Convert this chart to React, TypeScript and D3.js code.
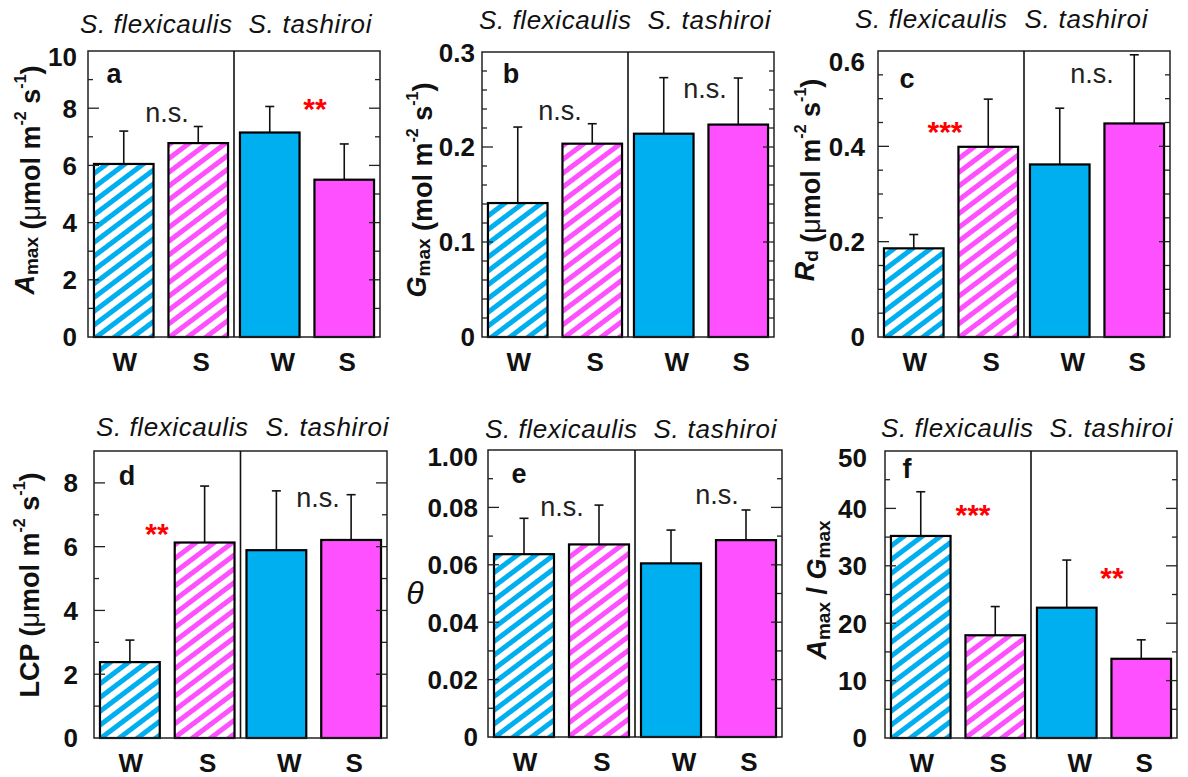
import React from "react";
import * as d3 from "d3";

// ---------- data ----------
const species = ["S. flexicaulis", "S. tashiroi"];
const treatments = ["W", "S"];

const amaxMean = [6.05, 6.78, 7.15, 5.5];
const amaxSE = [1.15, 0.58, 0.91, 1.25];
const amaxTicks = [0, 2, 4, 6, 8, 10];
const amaxTickLabels = ["0", "2", "4", "6", "8", "10"];

const gmaxMean = [0.141, 0.2035, 0.214, 0.2236];
const gmaxSE = [0.08, 0.021, 0.059, 0.049];
const gmaxTicks = [0, 0.1, 0.2, 0.3];
const gmaxTickLabels = ["0", "0.1", "0.2", "0.3"];

const rdMean = [0.186, 0.399, 0.362, 0.448];
const rdSE = [0.029, 0.1, 0.118, 0.144];
const rdTicks = [0, 0.2, 0.4, 0.6];
const rdTickLabels = ["0", "0.2", "0.4", "0.6"];

const lcpMean = [2.38, 6.13, 5.89, 6.21];
const lcpSE = [0.69, 1.77, 1.86, 1.42];
const lcpTicks = [0, 2, 4, 6, 8];
const lcpTickLabels = ["0", "2", "4", "6", "8"];

const thetaMean = [0.0637, 0.0671, 0.0605, 0.0686];
const thetaSE = [0.0125, 0.0137, 0.0116, 0.0105];
const thetaTicks = [0, 0.02, 0.04, 0.06, 0.08, 0.1];
const thetaTickLabels = ["0", "0.02", "0.04", "0.06", "0.08", "1.00"];

const ratioMean = [35.2, 17.9, 22.7, 13.8];
const ratioSE = [7.7, 5.0, 8.3, 3.3];
const ratioTicks = [0, 10, 20, 30, 40, 50];
const ratioTickLabels = ["0", "10", "20", "30", "40", "50"];

// ---------- styling / layout ----------
const FONT = "'Liberation Sans', Arial, Helvetica, sans-serif";
const BLUE = "#00AFEF";
const MAGENTA = "#FF50FF";
const fills = ["url(#hatchBlue)", "url(#hatchMag)", BLUE, MAGENTA];
const labelDx = [1, 3, 13, 3];
const TICK_FS = 26;
const TITLE_FS = 27;
const SUB_FS = 19;
const SUP_FS = 16;

type Ann = { text: string; x: number; y: number; star?: boolean };
type Panel = {
  letter: string;
  mean: number[];
  se: number[];
  domain: [number, number];
  ticks: number[];
  tickLabels: string[];
  minor: number;
  frame: { x: number; y: number; w: number; h: number };
  gap: number;
  topDy: number;
  titleBase: number;
  spCx: [number, number];
  letterPos: [number, number];
  anns: Ann[];
  yTitle: { x: number; y: number; kind: string };
};

const panels: Panel[] = [
  {
    letter: "a", mean: amaxMean, se: amaxSE, domain: [0, 10], ticks: amaxTicks, tickLabels: amaxTickLabels, minor: 1,
    frame: { x: 88, y: 51, w: 292, h: 286 }, gap: 11, topDy: 6, titleBase: -18, spCx: [68, 222], letterPos: [26, 32],
    anns: [{ text: "n.s.", x: 79, y: 71 }, { text: "**", x: 227, y: 68, star: true }],
    yTitle: { x: 25, y: 180, kind: "amax" },
  },
  {
    letter: "b", mean: gmaxMean, se: gmaxSE, domain: [0, 0.3], ticks: gmaxTicks, tickLabels: gmaxTickLabels, minor: 0.02,
    frame: { x: 482, y: 52, w: 292, h: 285 }, gap: 7, topDy: 1, titleBase: -23, spCx: [73, 227], letterPos: [29, 31],
    anns: [{ text: "n.s.", x: 78, y: 68 }, { text: "n.s.", x: 223, y: 46 }],
    yTitle: { x: 417, y: 190, kind: "gmax" },
  },
  {
    letter: "c", mean: rdMean, se: rdSE, domain: [0, 0.6], ticks: rdTicks, tickLabels: rdTickLabels, minor: 0.05,
    frame: { x: 878, y: 51, w: 292, h: 286 }, gap: 13, topDy: 11, titleBase: -23, spCx: [53, 208], letterPos: [29, 37],
    anns: [{ text: "***", x: 67, y: 91, star: true }, { text: "n.s.", x: 214, y: 32 }],
    yTitle: { x: 805, y: 180, kind: "rd" },
  },
  {
    letter: "d", mean: lcpMean, se: lcpSE, domain: [0, 9], ticks: lcpTicks, tickLabels: lcpTickLabels, minor: 1,
    frame: { x: 94, y: 451, w: 293, h: 287 }, gap: 16, topDy: 0, titleBase: -15, spCx: [78, 233], letterPos: [33, 34],
    anns: [{ text: "**", x: 63, y: 93, star: true }, { text: "n.s.", x: 224, y: 56 }],
    yTitle: { x: 30, y: 585, kind: "lcp" },
  },
  {
    letter: "e", mean: thetaMean, se: thetaSE, domain: [0, 0.1], ticks: thetaTicks, tickLabels: thetaTickLabels, minor: 0.01,
    frame: { x: 488, y: 450, w: 294, h: 287 }, gap: 10, topDy: 7, titleBase: -12, spCx: [73, 227], letterPos: [31, 33],
    anns: [{ text: "n.s.", x: 74, y: 66 }, { text: "n.s.", x: 229, y: 54 }],
    yTitle: { x: 415, y: 593, kind: "theta" },
  },
  {
    letter: "f", mean: ratioMean, se: ratioSE, domain: [0, 50], ticks: ratioTicks, tickLabels: ratioTickLabels, minor: 5,
    frame: { x: 885, y: 451, w: 292, h: 287 }, gap: 18, topDy: 7, titleBase: -14, spCx: [72, 226], letterPos: [22, 27],
    anns: [{ text: "***", x: 88, y: 74, star: true }, { text: "**", x: 227, y: 137, star: true }],
    yTitle: { x: 817, y: 590, kind: "ratio" },
  },
];

function YTitle({ x, y, kind }: { x: number; y: number; kind: string }) {
  const base = { fontFamily: FONT, fontWeight: 700, fontSize: TITLE_FS, fill: "#111" } as any;
  const tf = `translate(${x},${y}) rotate(-90)`;
  if (kind === "theta") {
    return (
      <text transform={`translate(${x},${y})`} textAnchor="middle" dominantBaseline="central" style={{ fontFamily: FONT, fontSize: 32, fontStyle: "italic", fill: "#111" }}>
        θ
      </text>
    );
  }
  const unit = (mu: boolean) => (
    <>
      <tspan> (</tspan>
      {mu ? <tspan fontWeight={400}>μ</tspan> : null}
      <tspan>mol m</tspan>
      <tspan fontSize={SUP_FS} dy={-11}>-2</tspan>
      <tspan dy={11}> s</tspan>
      <tspan fontSize={SUP_FS} dy={-11}>-1</tspan>
      <tspan dy={11}>)</tspan>
    </>
  );
  const sub = (main: string, s: string) => (
    <>
      <tspan fontStyle="italic">{main}</tspan>
      <tspan fontSize={SUB_FS} dy={6}>{s}</tspan>
    </>
  );
  let content: any = null;
  if (kind === "amax") {
    content = (<>{sub("A", "max")}<tspan dy={-6}></tspan>{unit(true)}</>);
  } else if (kind === "gmax") {
    content = (<>{sub("G", "max")}<tspan dy={-6}></tspan>{unit(false)}</>);
  } else if (kind === "rd") {
    content = (<>{sub("R", "d")}<tspan dy={-6}></tspan>{unit(true)}</>);
  } else if (kind === "lcp") {
    content = (<><tspan>LCP</tspan>{unit(true)}</>);
  } else if (kind === "ratio") {
    content = (
      <>
        {sub("A", "max")}
        <tspan dy={-6}> / </tspan>
        {sub("G", "max")}
      </>
    );
  }
  return (
    <text transform={tf} textAnchor="middle" dominantBaseline="central" style={base}>
      {content}
    </text>
  );
}

function PanelView({ p }: { p: Panel }) {
  const { x, y, w, h } = p.frame;
  const yScale = d3.scaleLinear().domain(p.domain).range([h, 0]);
  const spScale = d3.scaleBand<string>().domain(species).range([0, w]);
  const trScale = d3.scaleBand<string>().domain(treatments).range([0, spScale.bandwidth()]).paddingInner(0.2).paddingOuter(0.08);
  const cats = species.flatMap((s) => treatments.map((t) => ({ s, t })));
  const nMinor = Math.round((p.domain[1] - p.domain[0]) / p.minor);
  const minorTicks = d3.range(0, nMinor + 1).map((i) => p.domain[0] + i * p.minor);
  const majorSet = new Set(p.ticks.map((t) => t.toFixed(6)));
  const divX = spScale(species[1])!;
  return (
    <g transform={`translate(${x},${y})`}>
      {cats.map((c, i) => {
        const bx = spScale(c.s)! + trScale(c.t)!;
        const bw = trScale.bandwidth();
        const top = yScale(p.mean[i]);
        const errTop = yScale(p.mean[i] + p.se[i]);
        const cx = bx + bw / 2;
        return (
          <g key={i}>
            <line x1={cx} x2={cx} y1={top} y2={errTop} stroke="#111" strokeWidth={1.6} />
            <line x1={cx - 4.5} x2={cx + 4.5} y1={errTop} y2={errTop} stroke="#111" strokeWidth={1.6} />
            <rect x={bx} y={top} width={bw} height={h - top} fill={fills[i]} stroke="#000" strokeWidth={2.2} />
          </g>
        );
      })}
      {minorTicks.map((t, i) => {
        const isMajor = majorSet.has(t.toFixed(6));
        const len = isMajor ? 11 : 5;
        const ty = yScale(t);
        if (i === 0 || i === nMinor) return null;
        return (
          <g key={i}>
            <line x1={0} x2={len} y1={ty} y2={ty} stroke="#222" strokeWidth={1.3} />
            <line x1={w - len} x2={w} y1={ty} y2={ty} stroke="#222" strokeWidth={1.3} />
          </g>
        );
      })}
      <rect x={0} y={0} width={w} height={h} fill="none" stroke="#222" strokeWidth={1.5} />
      <line x1={divX} x2={divX} y1={0} y2={h} stroke="#111" strokeWidth={1.6} />
      {p.ticks.map((t, i) => (
        <text
          key={i}
          x={-p.gap}
          y={yScale(t) + (i === p.ticks.length - 1 ? p.topDy : 0)}
          dy="0.36em"
          textAnchor="end"
          style={{ fontFamily: FONT, fontWeight: 700, fontSize: TICK_FS, fill: "#111" }}
        >
          {p.tickLabels[i]}
        </text>
      ))}
      {cats.map((c, i) => (
        <text
          key={i}
          x={spScale(c.s)! + trScale(c.t)! + trScale.bandwidth() / 2 + labelDx[i]}
          y={h + 34}
          textAnchor="middle"
          style={{ fontFamily: FONT, fontWeight: 700, fontSize: TICK_FS, fill: "#111" }}
        >
          {c.t}
        </text>
      ))}
      {species.map((s, i) => (
        <text
          key={s}
          x={p.spCx[i]}
          y={p.titleBase}
          textAnchor="middle"
          textLength={i === 0 ? 152 : 123}
          lengthAdjust="spacing"
          style={{ fontFamily: FONT, fontStyle: "italic", fontSize: 26, fill: "#111" }}
        >
          {s}
        </text>
      ))}
      <text x={p.letterPos[0]} y={p.letterPos[1]} textAnchor="middle" style={{ fontFamily: FONT, fontWeight: 700, fontSize: 27, fill: "#111" }}>
        {p.letter}
      </text>
      {p.anns.map((a, i) => (
        <text
          key={i}
          x={a.x}
          y={a.y}
          textAnchor="middle"
          style={
            a.star
              ? { fontFamily: FONT, fontWeight: 700, fontSize: 30, fill: "#FF0000" }
              : { fontFamily: FONT, fontSize: 27, fill: "#222" }
          }
        >
          {a.text}
        </text>
      ))}
    </g>
  );
}

export default function App() {
  return (
    <svg width={1188} height={777} style={{ position: "absolute", left: 0, top: 0, background: "#fff" }}>
      <defs>
        <pattern id="hatchBlue" patternUnits="userSpaceOnUse" width={20} height={11} patternTransform="rotate(-37)">
          <rect width={20} height={11} fill="#fff" />
          <rect width={20} height={5} fill={BLUE} />
        </pattern>
        <pattern id="hatchMag" patternUnits="userSpaceOnUse" width={20} height={11} patternTransform="rotate(-37)">
          <rect width={20} height={11} fill="#fff" />
          <rect width={20} height={5} fill={MAGENTA} />
        </pattern>
      </defs>
      <rect width={1188} height={777} fill="#fff" />
      {panels.map((p) => (
        <PanelView key={p.letter} p={p} />
      ))}
      {panels.map((p) => (
        <YTitle key={p.letter} x={p.yTitle.x} y={p.yTitle.y} kind={p.yTitle.kind} />
      ))}
    </svg>
  );
}
